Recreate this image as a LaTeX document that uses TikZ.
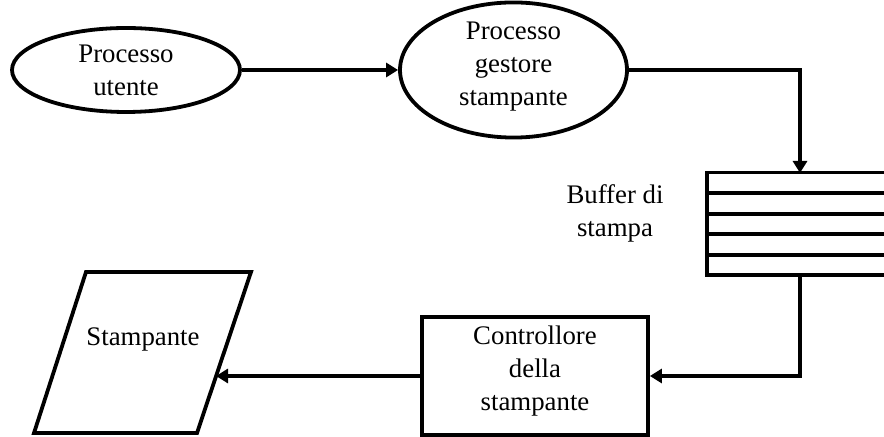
\documentclass[tikz,border=0pt]{standalone}
\usepackage{fontspec}
\setmainfont{Liberation Serif}
\usetikzlibrary{arrows.meta,shapes.geometric,calc}
\begin{document}
\begin{tikzpicture}[x=0.5pt,y=-0.5pt,
    font=\fontsize{13.4}{16.5}\selectfont,
    proc/.style={draw=black,ellipse,line width=1.9pt,align=center,inner sep=0pt},
    box/.style={draw=black,rectangle,line width=1.9pt,align=center,inner sep=0pt},
    flow/.style={line width=2.4pt,-{Triangle[length=6pt,width=7pt]}},
    edge/.style={line width=1.9pt}]
    \useasboundingbox (0,0) rectangle (884,437);
    % processi
    \node[proc,minimum width=114pt,minimum height=42pt] (utente) at (126,70) {Processo\\utente};
    \node[proc,minimum width=113.5pt,minimum height=63pt,text depth=6pt] (gest) at (513.5,70) {Processo\\gestore\\stampante};
    % buffer di stampa
    \node[minimum width=88.5pt,minimum height=51pt,inner sep=0pt] (buffer) at (795.5,224) {};
    \draw[edge] (buffer.north east) -- (buffer.north west) -- (buffer.south west) -- (buffer.south east);
    \foreach \k in {1,...,4}
        \draw[edge] ($(buffer.north west)!\k/5!(buffer.south west)$) -- ($(buffer.north east)!\k/5!(buffer.south east)$);
    \node[align=center] (buflabel) at (615,213) {Buffer di\\stampa};
    \coordinate (bin) at (800,173);
    \coordinate (bout) at (800,275);
    % controllore e stampante
    \node[box,minimum width=113pt,minimum height=59pt,text depth=8pt] (ctrl) at (535,376) {Controllore\\della\\stampante};
    \draw[edge] (86,272) -- (251,272) -- (197,433) -- (34,433) -- cycle;
    \node (printer) at (143,339) {Stampante};
    \coordinate (prin) at (216,376);
    % frecce
    \draw[flow] (utente.east) -- (gest.west);
    \draw[flow] (gest.east) -| (bin);
    \draw[flow] (bout) |- (ctrl.east);
    \draw[flow] (ctrl.west) -- (prin);
\end{tikzpicture}
\end{document}
